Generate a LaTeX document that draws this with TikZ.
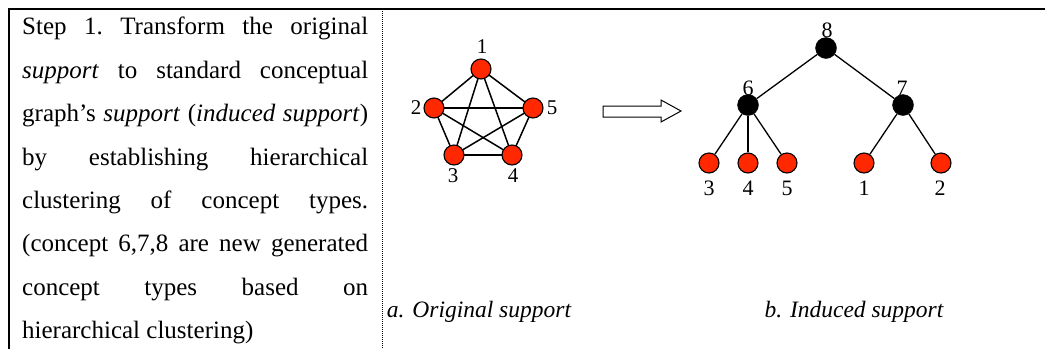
\documentclass[tikz,border=0pt]{standalone}
\usepackage{fontspec}
\setmainfont{Liberation Serif}
\definecolor{nodered}{RGB}{255,40,0}
\tikzset{
  rednode/.style={circle,draw=black,line width=1.1pt,fill=nodered,minimum size=20pt,inner sep=0pt},
  blacknode/.style={circle,draw=black,fill=black,minimum size=21pt,inner sep=0pt},
  edge/.style={line width=1.5pt},
  treeedge/.style={line width=1.3pt},
  smalllab/.style={font=\fontsize{21}{21}\selectfont,inner sep=0pt},
  treelab/.style={font=\fontsize{22}{22}\selectfont,inner sep=0pt},
  caption/.style={font=\fontsize{23.5}{23.5}\selectfont\itshape,anchor=base,inner sep=0pt}
}
\begin{document}
\begin{tikzpicture}[x=1pt,y=-1pt]
\useasboundingbox (0,0) rectangle (1045,349);
% table frame
\coordinate (tl) at (8,9);
\coordinate (tr) at (1045,9);
\coordinate (lt) at (9,9);
\coordinate (bl) at (9,349);
\coordinate (dt) at (382,9);
\coordinate (db) at (382,349);
\draw[line width=1.6pt] (tl) -- (tr);
\draw[line width=1.2pt] (lt) -- (bl);
\draw[line width=0.8pt,dash pattern=on 1pt off 1pt] (dt) -- (db);

% description text
\node[anchor=north west,inner sep=0pt,text width=346pt,align=justify,
      font=\fontsize{25}{43.4}\selectfont\frenchspacing] (desc) at (22,17)
{Step 1. Transform the original\linebreak
\textit{support} to standard conceptual\linebreak
graph’s \textit{support} (\textit{induced support})\linebreak
by establishing hierarchical\linebreak
clustering of concept types.\linebreak
(concept 6,7,8 are new generated\linebreak
concept types based on\linebreak
hierarchical clustering)};

% original support: complete graph on five concepts
\coordinate (p1) at (481,69);
\coordinate (p2) at (434,108);
\coordinate (p5) at (533,108);
\coordinate (p3) at (454,155);
\coordinate (p4) at (512,155);
\foreach \a/\b in {p1/p2,p1/p5,p1/p3,p1/p4,p2/p5,p2/p3,p2/p4,p5/p3,p5/p4,p3/p4}
  \draw[edge] (\a) -- (\b);
\foreach \n in {p1,p2,p3,p4,p5}
  \node[rednode] (\n c) at (\n) {};
\node[smalllab] (l1) at (482,47) {1};
\node[smalllab] (l2) at (416,108) {2};
\node[smalllab] (l5) at (552,108) {5};
\node[smalllab] (l3) at (453,176) {3};
\node[smalllab] (l4) at (513,176) {4};

% transformation arrow (outlined block arrow)
\draw[line width=1pt,fill=white,line join=miter]
  (603,106) -- (661,106) -- (661,100) -- (681,111) -- (661,122) -- (661,117) -- (603,117) -- cycle;

% induced support: hierarchy
\node[blacknode] (t8) at (826,48) {};
\node[blacknode] (t6) at (748,105) {};
\node[blacknode] (t7) at (903,105) {};
\node[rednode] (c3) at (709,163) {};
\node[rednode] (c4) at (748,163) {};
\node[rednode] (c5) at (787,163) {};
\node[rednode] (c1) at (864,163) {};
\node[rednode] (c2) at (941,163) {};
\draw[treeedge] (t8) -- (t6);
\draw[treeedge] (t8) -- (t7);
\draw[treeedge] (t6) -- (c3);
\draw[treeedge] (t6) -- (c4);
\draw[treeedge] (t6) -- (c5);
\draw[treeedge] (t7) -- (c1);
\draw[treeedge] (t7) -- (c2);
\node[treelab] (n8) at (827,30) {8};
\node[treelab] (n6) at (748,88) {6};
\node[treelab] (n7) at (902,88) {7};
\node[treelab] (n3) at (709,188) {3};
\node[treelab] (n4) at (748,188) {4};
\node[treelab] (n5) at (787,188) {5};
\node[treelab] (n1) at (864,188) {1};
\node[treelab] (n2) at (940,188) {2};

% captions
\node[caption] (capa) at (479,317) {a. Original support};
\node[caption] (capb) at (854,317) {b. Induced support};
\end{tikzpicture}
\end{document}
